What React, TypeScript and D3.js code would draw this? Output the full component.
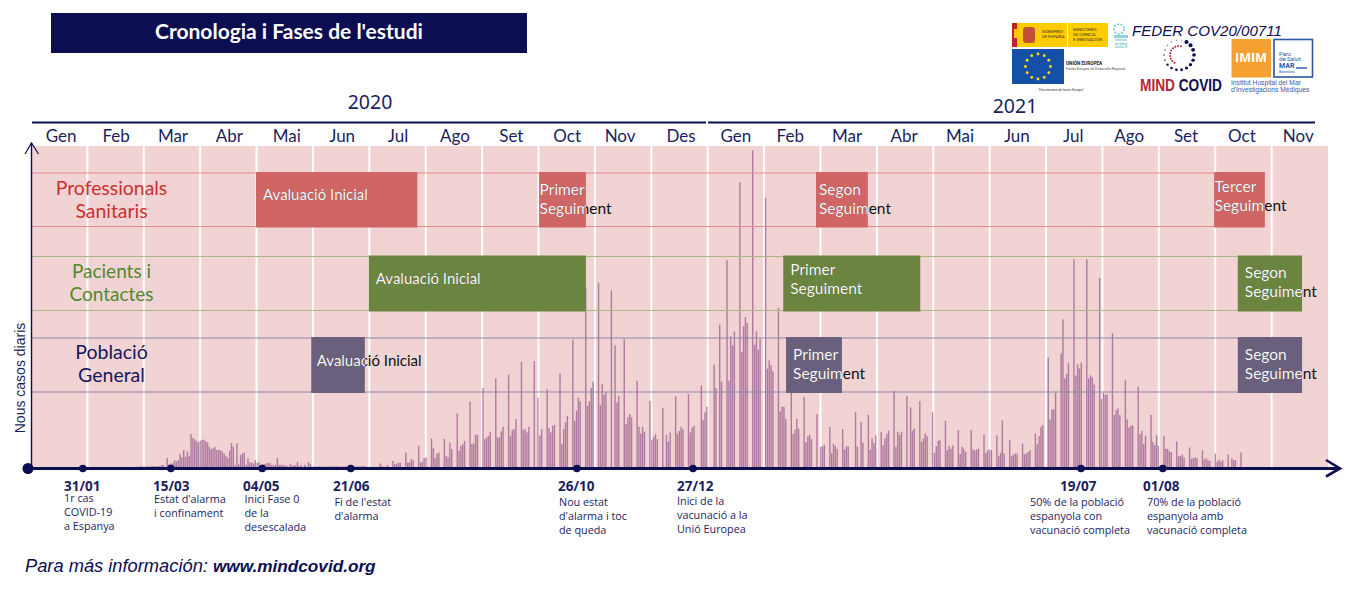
import React from "react";
import * as d3 from "d3";

// ---------- data ----------
const monthLabels = ["Gen","Feb","Mar","Abr","Mai","Jun","Jul","Ago","Set","Oct","Nov","Des","Gen","Feb","Mar","Abr","Mai","Jun","Jul","Ago","Set","Oct","Nov"];
const yearLabels = ["2020", "2021"];

// daily new cases, in hundreds, one row per week
const casesSpring2020 = [
  [2,3,3,3,3,3,3],[3,4,4,4,4,4,5],[7,7,1,28,10,12,12],[22,18,22,40,30,52,32],
  [48,35,100,88,84,80,75],[80,83,83,78,75,62,55],[58,62,52,53,52,48,42],[35,28,50,73,62,8,72],
  [10,38,42,45,8,28,15],[15,12,22,14,16,8,10],[10,12,14,14,8,6,8],[28,8,8,8,6,6,2],
  [10,6,7,7,17,4,7],[2,8,2,16,10,3,3],[3,3,3,3,3,3,3],[3,3,3,3,5,3,3],[3,3,3,3,3,3,3],[3,3,3,3,4,5,3],[2,2,2,2,2,2,2],
];
const casesAutumn2020 = [
  [12,4,2,3,8,0,0],[20,10,12,14,14,0,0],[45,15,15,26,22,0,0],[65,15,17,28,30,0,0],
  [87,58,28,42,45,0,0],[86,35,30,75,55,0,0],[162,50,65,70,80,0,0],[197,70,72,98,98,0,0],
  [238,85,90,95,107,0,0],[268,90,90,108,122,0,0],[278,95,112,115,145,0,0],[317,112,115,105,122,0,0],
  [319,0,209,96,115,0,0],[235,118,105,125,128,0,0],[281,70,115,135,155,0,0],[383,140,170,210,198,0,0],
  [540,185,198,238,257,0,0],[554,187,250,218,225,0,0],[530,0,366,195,215,0,0],[385,130,150,160,150,0,0],
  [260,122,102,122,107,0,0],[200,82,92,100,85,0,0],[179,0,98,77,105,0,0],[214,102,110,122,115,0,0],
  [220,105,120,125,0,0,0],[245,142,165,182,0,0,0],
];
const casesWinter2021 = [
  [308,238,0,428,257,0,0],[621,260,393,365,408,0,0],[855,346,423,451,433,0,0],[950,368,408,353,385,0,0],
  [808,296,321,306,288,0,0],[478,168,183,181,146,0,0],[252,100,113,146,116,0,0],[211,76,93,98,85,0,0],
  [160,0,62,63,68,0,0],[121,43,71,65,56,0,0],[116,53,63,63,0,0,0],[167,63,0,136,75,0,0],[158,53,88,73,96,0,0],
];
const casesSpring2021 = [
  [106,67,87,100,110,0,0],[230,62,107,97,107,0,0],[214,0,180,110,117,0,0],[199,77,87,102,94,0,0],
  [166,44,64,80,82,0,0],[140,52,64,56,66,0,0],[112,40,62,56,47,0,0],[112,54,51,54,57,0,0],
  [98,44,52,54,52,0,0],[96,34,44,141,42,0,0],[82,34,39,42,42,0,0],[72,39,42,46,52,0,0],[102,70,94,122,127,0,0],
];
const casesSummer2021 = [
  [329,144,174,174,224,0,0],[342,444,267,280,314,0,0],[624,276,309,297,314,0,0],[624,267,276,270,249,0,0],
  [568,205,224,217,219,0,0],[402,157,172,177,157,0,0],[261,144,120,126,126,0,0],[242,100,110,70,95,0,0],
  [158,77,67,96,65,0,0],[95,56,56,49,46,0,0],[78,34,34,39,30,0,0],[60,26,28,31,28,0,0],
  [51,24,28,22,19,0,0],[42,17,23,18,22,0,0],[39,0,28,22,22,0,0],[45],
];
const dailyCases = [...casesSpring2020, ...casesAutumn2020, ...casesWinter2021, ...casesSpring2021, ...casesSummer2021].flat();

// study phases: start and end, in months since January 2020
const professionalPhases = [
  { start: 3.99, end: 6.85, lines: ["Avaluació Inicial"] },
  { start: 9.01, end: 9.84, lines: ["Primer", "Seguiment"] },
  { start: 13.92, end: 14.84, lines: ["Segon", "Seguiment"] },
  { start: 20.98, end: 21.88, lines: ["Tercer", "Seguiment"] },
];
const patientPhases = [
  { start: 5.99, end: 9.84, lines: ["Avaluació Inicial"] },
  { start: 13.34, end: 15.77, lines: ["Primer", "Seguiment"] },
  { start: 21.4, end: 22.54, lines: ["Segon", "Seguiment"] },
];
const generalPhases = [
  { start: 4.97, end: 5.92, lines: ["Avaluació Inicial"] },
  { start: 13.39, end: 14.38, lines: ["Primer", "Seguiment"] },
  { start: 21.4, end: 22.54, lines: ["Segon", "Seguiment"] },
];

const milestoneMonths = [0.92, 2.48, 4.1, 5.67, 9.68, 11.74, 18.62, 20.07];
const milestoneDates = ["31/01", "15/03", "04/05", "21/06", "26/10", "27/12", "19/07", "01/08"];
const milestoneCaptions = [
  ["1r cas", "COVID-19", "a Espanya"],
  ["Estat d'alarma", "i confinament"],
  ["Inici Fase 0", "de la", "desescalada"],
  ["Fi de l'estat", "d'alarma"],
  ["Nou estat", "d'alarma i toc", "de queda"],
  ["Inici de la", "vacunació a la", "Unió Europea"],
  ["50% de la població", "espanyola con", "vacunació completa"],
  ["70% de la població", "espanyola amb", "vacunació completa"],
];

// ---------- layout and styles ----------
const NAVY = "#0b0e50";
const TEXT = "#1b1e5e";
const WIDTH = 1365, HEIGHT = 600;
const BASE = 467.5;
const xMonth = d3.scaleLinear().domain([0, 23]).range([31, 1328]);
const xDay = d3.scaleLinear().domain([0, dailyCases.length - 1]).range([136, 1241]);
const yCases = d3.scaleLinear().domain([0, 950]).range([BASE, 150.5]);
const monthNudge = [2, 0.5, 1, 1, 2, 1, 0.5, 1, 1, 0.5, -3, 1.5, 0, -2, -1.5, -1, -1.5, -1, -1, -1.5, -1, -1.5, -1.5];

const rows = [
  { id: "p", title: ["Professionals", "Sanitaris"], titleY: [195, 218], titleSize: 19.4, color: "#c9302f", top: 173, bottom: 226.5, line: "#e58c8c", fill: "#cf6565", phases: professionalPhases, lineEnd: 1265,
    textX: [7, 0.5, 3, 0.5], textY: [22, 22, 22, 19], singleY: 0.5 },
  { id: "c", title: ["Pacients i", "Contactes"], titleY: [278, 301], titleSize: 19, color: "#4e8a2b", top: 256.5, bottom: 310.5, line: "#a9b981", fill: "#6b843f", phases: patientPhases, lineEnd: 1302,
    textX: [7, 7, 7], textY: [0, 18.5, 21], singleY: 0.5 },
  { id: "g", title: ["Població", "General"], titleY: [359, 382], titleSize: 19.5, color: "#14175f", top: 338, bottom: 392, line: "#8f86a8", fill: "#6a5f7d", phases: generalPhases, lineEnd: 1302,
    textX: [5.5, 7, 7], textY: [0, 21.5, 22], singleY: 0.5 },
];
const milestoneDateX = [64, 153, 243, 333, 558, 677, 1060, 1143];
const captionX = [64, 154, 244.5, 334.5, 559, 677, 1030, 1147];
const captionY = [[498, 512, 526], [499, 513], [499, 513, 527], [502, 516], [502, 516, 530], [501, 515, 529], [502, 516, 530], [502, 516, 530]];

const euStarAngles = d3.range(12).map((i) => (i * Math.PI) / 6);
const ringDotAngles = [-60, -40, -20, 0, 20, 40, 60, 80, 100, 120, 140, 160, 180, 200, 220, 240, 260, 280];
const innerRingAngles = d3.range(120, 300, 18);

function Logos() {
  return (
    <g>
      <rect x={1012} y={23} width={96} height={24} fill="#ffcc00" />
      <rect x={1012} y={23} width={5} height={24} fill="#c8202f" />
      <rect x={1014} y={29} width={3} height={9} fill="#ffcc00" />
      <rect x={1023} y={27} width={12} height={16} rx={3} fill="#c1503a" />
      <rect x={1067} y={23} width={1} height={24} fill="#fff" />
      <g fontFamily="Roboto" fontSize={4.3} fill="#333">
        <text x={1042} y={33}>GOBIERNO</text>
        <text x={1042} y={38}>DE ESPAÑA</text>
        <text x={1073} y={31}>MINISTERIO</text>
        <text x={1073} y={36}>DE CIENCIA</text>
        <text x={1073} y={41}>E INNOVACIÓN</text>
      </g>
      <g fill="#47b3c4">
        <circle cx={1119} cy={29} r={5} fill="none" stroke="#6fc7d2" strokeWidth={1.6} strokeDasharray="2 1.5" />
        <rect x={1114} y={35} width={14} height={3} opacity={0.6} />
      </g>
      <g fontFamily="Roboto" fontSize={3.2} fill="#3aa3b6" textAnchor="middle">
        <text x={1121} y={41}>Instituto</text>
        <text x={1121} y={44.5}>de Salud</text>
        <text x={1121} y={48}>Carlos III</text>
      </g>
      <text x={1132} y={36} fontFamily="Liberation Sans" fontStyle="italic" fontSize={15.1} fill={NAVY}>FEDER COV20/00711</text>
      <rect x={1012} y={49} width={52} height={35} fill="#1550a8" />
      {euStarAngles.map((a, i) => (
        <circle key={i} cx={1038 + 12.5 * Math.sin(a)} cy={66.5 + 12.5 * Math.cos(a)} r={1.4} fill="#ffe000" />
      ))}
      <text x={1066} y={65} fontFamily="Roboto" fontWeight={700} fontSize={4.7} fill="#222">UNIÓN EUROPEA</text>
      <text x={1066} y={70} fontFamily="Roboto" fontSize={3.5} fill="#555">Fondo Europeo de Desarrollo Regional</text>
      <text x={1038} y={90.5} fontFamily="Roboto" fontStyle="italic" fontSize={3.5} fill="#333">"Una manera de hacer Europa"</text>
      {ringDotAngles.map((a, i) => (
        <circle key={a} cx={1179 + 15 * Math.cos((a * Math.PI) / 180)} cy={55 + 15 * Math.sin((a * Math.PI) / 180)} r={2.1 - i * 0.09} fill={i < 11 ? NAVY : "#8a8aa6"} />
      ))}
      {innerRingAngles.map((a) => (
        <circle key={a} cx={1179 + 9 * Math.cos((a * Math.PI) / 180)} cy={55 + 9 * Math.sin((a * Math.PI) / 180)} r={1} fill="#b5262f" />
      ))}
      <text x={1140} y={91} fontFamily="Liberation Sans" fontWeight={700} fontSize={16.5} textLength={82} lengthAdjust="spacingAndGlyphs">
        <tspan fill="#b5262f">MIND </tspan><tspan fill={NAVY}>COVID</tspan>
      </text>
      <rect x={1231.5} y={39} width={39.5} height={38.5} fill="#f7a032" />
      <text x={1251} y={62} textAnchor="middle" fontFamily="Open Sans" fontWeight={700} fontSize={12.5} fill="#fff">IMIM</text>
      <rect x={1274} y={39.5} width={38.5} height={37.5} fill="#fff" stroke="#2c55a8" strokeWidth={1.6} />
      <g fontFamily="Roboto" fontSize={6} fill="#2c55a8">
        <text x={1279} y={56}>Parc</text>
        <text x={1279} y={61}>de Salut</text>
        <text x={1279} y={68} fontWeight={700} fontSize={7}>MAR</text>
        <text x={1279} y={72.5} fontSize={3.5}>Barcelona</text>
      </g>
      <path d="M1296 68h11" stroke="#2c55a8" strokeWidth={1.4} />
      <g fontFamily="Liberation Sans" fontSize={6.7} fill="#3b5aa6">
        <text x={1231} y={85}>Institut Hospital del Mar</text>
        <text x={1231} y={92}>d'Investigacions Mèdiques</text>
      </g>
    </g>
  );
}

export default function App() {
  return (
    <svg width={WIDTH} height={HEIGHT} style={{ position: "absolute", left: 0, top: 0, background: "#fff" }}>
      <defs>
        {rows.flatMap((r) =>
          r.phases.map((p, i) => (
            <clipPath key={r.id + i} id={`clip-${r.id}-${i}`}>
              <rect x={xMonth(p.start)} y={r.top - 2} width={xMonth(p.end) - xMonth(p.start)} height={r.bottom - r.top + 4} />
            </clipPath>
          ))
        )}
      </defs>

      {/* title */}
      <rect x={51} y={13} width={476} height={40} fill={NAVY} />
      <text x={289} y={38.5} textAnchor="middle" fontFamily="Lato" fontWeight={700} fontSize={21} fill="#fff">Cronologia i Fases de l'estudi</text>
      <Logos />

      {/* years and months */}
      <text x={370} y={109} textAnchor="middle" fontFamily="Noto Sans" fontSize={19.5} fill={TEXT}>{yearLabels[0]}</text>
      <text x={1015} y={113} textAnchor="middle" fontFamily="Noto Sans" fontSize={19.5} fill={TEXT}>{yearLabels[1]}</text>
      <line x1={32} x2={706} y1={122.5} y2={122.5} stroke={NAVY} strokeWidth={2} />
      <line x1={708} x2={1315} y1={122.5} y2={122.5} stroke={NAVY} strokeWidth={2} />
      {monthLabels.map((m, i) => (
        <text key={i} x={xMonth(i + 0.5) + monthNudge[i]} y={142} textAnchor="middle" fontFamily="Lato" fontSize={17} fill={TEXT}>{m}</text>
      ))}

      {/* month bands */}
      {monthLabels.map((_, i) => {
        const x0 = i === 0 ? xMonth(0) : xMonth(i) + 1;
        const x1 = i === monthLabels.length - 1 ? xMonth(i + 1) : xMonth(i + 1) - 1;
        return <rect key={i} x={x0} y={146} width={x1 - x0} height={BASE - 146} fill="#f2d3d3" />;
      })}

      {/* daily cases */}
      {dailyCases.map((v, i) =>
        v > 0 ? (
          <rect key={i} x={xDay(i) - 0.7} y={yCases(v)} width={1.4} height={BASE - yCases(v)} fill="#7a2f72" fillOpacity={0.55} />
        ) : null
      )}

      {/* phase rows */}
      {rows.map((r) => (
        <g key={r.id}>
          <line x1={32} x2={r.lineEnd} y1={r.top} y2={r.top} stroke={r.line} strokeWidth={1.2} />
          <line x1={32} x2={r.lineEnd} y1={r.bottom} y2={r.bottom} stroke={r.line} strokeWidth={1.2} />
          {r.title.map((t, i) => (
            <text key={t} x={111.5} y={r.titleY[i]} textAnchor="middle" fontFamily="Lato" fontSize={r.titleSize} fill={r.color}>{t}</text>
          ))}
          {r.phases.map((p, i) => {
            const x0 = xMonth(p.start);
            const one = p.lines.length === 1;
            const textX = x0 + r.textX[i];
            const ys = one ? [(r.top + r.bottom) / 2 + r.singleY] : [r.top + r.textY[i], r.top + r.textY[i] + 19];
            return (
              <g key={i}>
                <rect x={x0} y={r.top - 1} width={xMonth(p.end) - x0} height={r.bottom - r.top + 2} fill={r.fill} />
                {p.lines.map((l, j) => (
                  <g key={l} fontFamily="Lato" fontSize={one ? 15 : 15.5}>
                    <text x={textX} y={ys[j]} fill="#111">{l}</text>
                    <text x={textX} y={ys[j]} fill="#fff" clipPath={`url(#clip-${r.id}-${i})`}>{l}</text>
                  </g>
                ))}
              </g>
            );
          })}
        </g>
      ))}

      {/* axes */}
      <line x1={31.5} x2={31.5} y1={143} y2={BASE} stroke={NAVY} strokeWidth={1.4} />
      <path d="M25 154 L31.5 143 L38.5 154" fill="none" stroke={NAVY} strokeWidth={1.2} />
      <text transform="translate(24.5,378) rotate(-90)" textAnchor="middle" fontFamily="Liberation Sans" fontSize={14} fill={TEXT}>Nous casos diaris</text>
      <line x1={28} x2={1339} y1={BASE + 1} y2={BASE + 1} stroke={NAVY} strokeWidth={3} />
      <path d="M1326 460 L1340 468.5 L1326 476.5" fill="none" stroke={NAVY} strokeWidth={2.6} />
      <circle cx={28} cy={BASE + 1} r={5.5} fill={NAVY} />

      {/* milestones */}
      {milestoneMonths.map((m, i) => (
        <g key={i}>
          <circle cx={xMonth(m)} cy={BASE + 1} r={3.8} fill={NAVY} />
          <text x={milestoneDateX[i]} y={491} fontFamily="Open Sans" fontWeight={700} fontSize={13.5} fill={TEXT}>{milestoneDates[i]}</text>
          {milestoneCaptions[i].map((c, j) => (
            <text key={c} x={captionX[i]} y={captionY[i][j] + 4} fontFamily="Open Sans" fontSize={10.8} fill={TEXT}>{c}</text>
          ))}
        </g>
      ))}

      {/* footer */}
      <text x={25} y={572} fontFamily="Liberation Sans" fontStyle="italic" fontSize={18.3} fill={NAVY}>
        Para más información: <tspan fontWeight={700} fontSize={17.2}>www.mindcovid.org</tspan>
      </text>
    </svg>
  );
}
